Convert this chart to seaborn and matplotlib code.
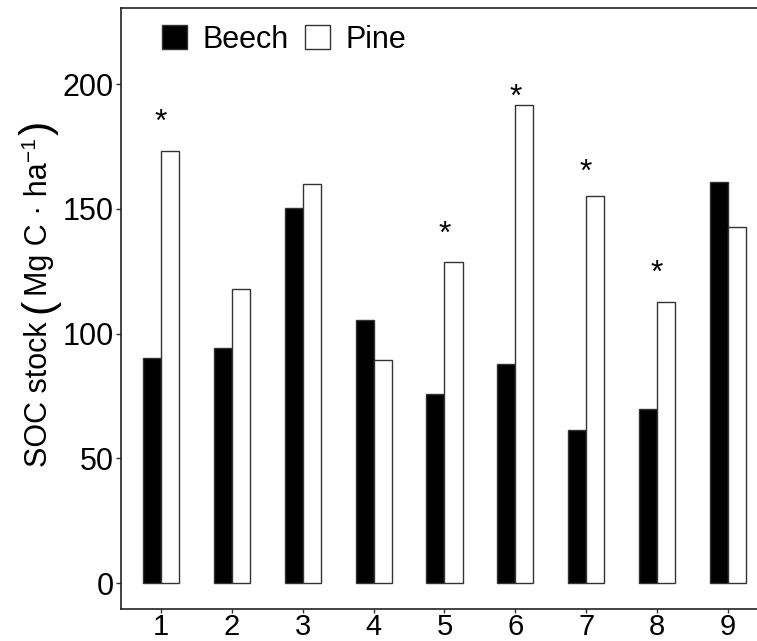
import matplotlib
matplotlib.use("Agg")
import matplotlib.pyplot as plt
from matplotlib.patches import Patch
import seaborn as sns
import pandas as pd

# Soil organic carbon stocks per site, beech vs pine stands
sites = ["1", "2", "3", "4", "5", "6", "7", "8", "9"]
beech = [90.1, 94.3, 150.3, 105.3, 75.8, 87.8, 61.2, 69.6, 160.8]
pine = [173.1, 118.0, 159.8, 89.4, 128.8, 191.7, 155.3, 112.7, 142.8]

# significance markers: site and label height
star_sites = ["1", "5", "6", "7", "8"]
star_heights = [181.2, 136.2, 191.4, 161.2, 120.6]

df = pd.DataFrame({
    "site": sites * 2,
    "species": ["Beech"] * len(sites) + ["Pine"] * len(sites),
    "soc": beech + pine,
})

sns.set_theme(style="white")
plt.rcParams["font.family"] = ["Liberation Sans", "DejaVu Sans"]
for key in ["text.color", "axes.labelcolor", "xtick.color", "ytick.color"]:
    plt.rcParams[key] = "black"

W, H = 757, 641
fig = plt.figure(figsize=(W / 100, H / 100), dpi=100)
ax = fig.add_axes([121 / W, 32 / H, 636 / W, 601 / H])

sns.barplot(
    data=df, x="site", y="soc", hue="species",
    palette={"Beech": "black", "Pine": "white"},
    order=sites, hue_order=["Beech", "Pine"],
    width=0.51, gap=0, edgecolor="#333333", linewidth=1.0,
    legend=False, ax=ax,
)

for s, h in zip(star_sites, star_heights):
    ax.text(sites.index(s), h, "*", ha="center", va="baseline",
            fontsize=23, color="black")

ax.set_xlim(-0.564, 8.41)
ax.set_ylim(-10.4, 230.5)
ax.set_yticks([0, 50, 100, 150, 200])
ax.set_xlabel("")
ax.set_ylabel("")

ax.tick_params(axis="both", which="both", direction="out",
               width=1.0, color="#333333", labelsize=22,
               bottom=True, left=True)
ax.tick_params(axis="x", pad=0, length=2.8, labelsize=21)
ax.tick_params(axis="y", pad=1.5, length=3.5)
for side in ["left", "bottom", "top"]:
    ax.spines[side].set_visible(True)
    ax.spines[side].set_linewidth(1.2)
    ax.spines[side].set_color("#222222")
ax.spines["right"].set_visible(False)

handles = [
    Patch(facecolor="black", edgecolor="#333333", linewidth=1.0, label="Beech"),
    Patch(facecolor="white", edgecolor="#333333", linewidth=1.0, label="Pine"),
]
ax.legend(handles=handles, loc="upper left", bbox_to_anchor=(0.0645, 0.972),
          ncol=2, frameon=False, fontsize=22, borderaxespad=0, borderpad=0,
          handlelength=0.82, handleheight=0.82, handletextpad=0.5,
          columnspacing=0.55)

# y-axis title assembled from pieces so the brackets can be enlarged
fig.canvas.draw()
renderer = fig.canvas.get_renderer()


def text_width(s, size):
    t = fig.text(0, 0, s, fontsize=size)
    w = t.get_window_extent(renderer).width
    t.remove()
    return w


# (text, fontsize, offset above baseline in px, gap after in px)
pieces = [
    ("SOC stock", 22, 0, 9),
    ("(", 31, -3, 3),
    ("Mg C \u00b7 ha", 22, 0, 1),
    ("\u22121", 15, 12, 2),
    (")", 31, -3, 0),
]
widths = [text_width(p[0], p[1]) for p in pieces]
total = sum(widths) + sum(p[3] for p in pieces)
baseline_x = 47
center_y = H - 294
pos = center_y - total / 2
for (txt, size, lift, gap), w in zip(pieces, widths):
    fig.text((baseline_x - lift) / W, pos / H, txt, fontsize=size,
             rotation=90, rotation_mode="anchor", ha="left", va="baseline")
    pos += w + gap

fig.savefig("out.png", dpi=100)
